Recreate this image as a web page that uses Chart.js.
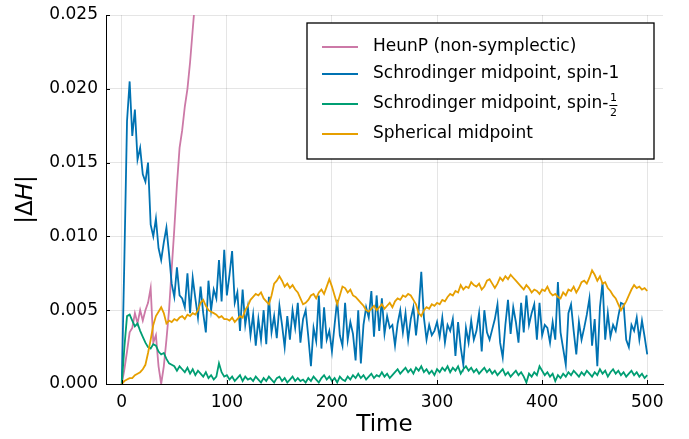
<!DOCTYPE html>
<html>
<head>
<meta charset="utf-8">
<script src="https://cdn.jsdelivr.net/npm/chart.js"></script>
<style>
  html, body { margin: 0; padding: 0; background: #fff; }
</style>
</head>
<body>
<canvas id="chart" width="689" height="439"></canvas>
<script>
// sampling step of the stored series (time units)
const dt = 2.5

// |dH| values, one per time step
const heunP = [
  0, 0.0010, 0.0022, 0.0035, 0.0038, 0.0048, 0.0041, 0.0050, 0.0043, 0.0050,
  0.0055, 0.0065, 0.0028, 0.0033, 0.0012, 0.0000, 0.0012, 0.0030, 0.0050, 0.0078,
  0.0105, 0.0135, 0.0160, 0.0172, 0.0188, 0.0200, 0.0218, 0.0240, 0.0262, 0.0285,
  0.0310
]

const schrodingerSpin1 = [
  0, 0.0085, 0.0178, 0.0205, 0.0168, 0.0186, 0.0152, 0.0160, 0.0142, 0.0137,
  0.0150, 0.0108, 0.0100, 0.0112, 0.0092, 0.0084, 0.0096, 0.0106, 0.0088, 0.0068,
  0.0059, 0.0079, 0.0060, 0.0058, 0.0052, 0.0075, 0.0048, 0.0072, 0.0058, 0.0045,
  0.0066, 0.0048, 0.0035, 0.0070, 0.0050, 0.0064, 0.0058, 0.0084, 0.0056, 0.0091,
  0.0060, 0.0074, 0.0090, 0.0055, 0.0062, 0.0036, 0.0064, 0.0040, 0.0052, 0.0033,
  0.0047, 0.0026, 0.0044, 0.0030, 0.0050, 0.0027, 0.0059, 0.0035, 0.0046, 0.0031,
  0.0053, 0.0040, 0.0025, 0.0046, 0.0030, 0.0050, 0.0038, 0.0055, 0.0028, 0.0044,
  0.0050, 0.0032, 0.0012, 0.0038, 0.0029, 0.0060, 0.0024, 0.0052, 0.0030, 0.0036,
  0.0022, 0.0040, 0.0057, 0.0033, 0.0026, 0.0055, 0.0030, 0.0042, 0.0034, 0.0016,
  0.0050, 0.0014, 0.0040, 0.0052, 0.0045, 0.0063, 0.0032, 0.0060, 0.0036, 0.0058,
  0.0034, 0.0046, 0.0038, 0.0040, 0.0026, 0.0041, 0.0050, 0.0035, 0.0048, 0.0030,
  0.0044, 0.0052, 0.0033, 0.0050, 0.0076, 0.0045, 0.0030, 0.0040, 0.0033, 0.0036,
  0.0042, 0.0032, 0.0045, 0.0028, 0.0040, 0.0036, 0.0044, 0.0019, 0.0042, 0.0025,
  0.0013, 0.0038, 0.0028, 0.0043, 0.0030, 0.0036, 0.0048, 0.0022, 0.0050, 0.0035,
  0.0030, 0.0037, 0.0044, 0.0054, 0.0028, 0.0018, 0.0040, 0.0057, 0.0034, 0.0052,
  0.0042, 0.0028, 0.0055, 0.0035, 0.0060, 0.0040, 0.0048, 0.0054, 0.0030, 0.0055,
  0.0033, 0.0040, 0.0038, 0.0028, 0.0042, 0.0030, 0.0069, 0.0035, 0.0024, 0.0013,
  0.0048, 0.0054, 0.0036, 0.0020, 0.0042, 0.0030, 0.0038, 0.0047, 0.0058, 0.0026,
  0.0044, 0.0012, 0.0052, 0.0069, 0.0030, 0.0048, 0.0032, 0.0040, 0.0036, 0.0046,
  0.0055, 0.0054, 0.0030, 0.0025, 0.0040, 0.0036, 0.0045, 0.0030, 0.0043, 0.0032,
  0.0020
]

const schrodingerSpinHalf = [
  0, 0.0025, 0.0046, 0.0047, 0.0043, 0.0039, 0.0041, 0.0036, 0.0032, 0.0028,
  0.0025, 0.0024, 0.0027, 0.0026, 0.0022, 0.0020, 0.0021, 0.0017, 0.0014, 0.0013,
  0.0012, 0.0009, 0.0012, 0.0010, 0.0008, 0.0011, 0.0007, 0.0010, 0.0006, 0.0009,
  0.0007, 0.0005, 0.0008, 0.0004, 0.0006, 0.0003, 0.0005, 0.0014, 0.0008, 0.0005,
  0.0006, 0.0003, 0.0005, 0.0002, 0.0004, 0.0006, 0.0002, 0.0005, 0.0003, 0.0004,
  0.0002, 0.0005, 0.0003, 0.0001, 0.0004, 0.0002, 0.0005, 0.0003, 0.0001, 0.0004,
  0.0005, 0.0002, 0.0004, 0.0001, 0.0003, 0.0005, 0.0002, 0.0004, 0.0002, 0.0003,
  0.0001, 0.0004, 0.0002, 0.0005, 0.0003, 0.0001, 0.0004, 0.0006, 0.0003, 0.0005,
  0.0002, 0.0004, 0.0001, 0.0005, 0.0003, 0.0002, 0.0005, 0.0003, 0.0006, 0.0004,
  0.0007, 0.0004, 0.0006, 0.0003, 0.0005, 0.0007, 0.0004, 0.0006, 0.0005, 0.0008,
  0.0005, 0.0007, 0.0004, 0.0006, 0.0008, 0.0010, 0.0007, 0.0009, 0.0011, 0.0008,
  0.0010, 0.0007, 0.0011, 0.0009, 0.0012, 0.0008, 0.0010, 0.0007, 0.0009, 0.0006,
  0.0010, 0.0008, 0.0011, 0.0009, 0.0012, 0.0008, 0.0011, 0.0009, 0.0012, 0.0007,
  0.0010, 0.0012, 0.0009, 0.0011, 0.0008, 0.0010, 0.0007, 0.0009, 0.0011, 0.0008,
  0.0010, 0.0007, 0.0009, 0.0006, 0.0008, 0.0010, 0.0006, 0.0008, 0.0005, 0.0007,
  0.0009, 0.0006, 0.0008, 0.0005, 0.0001, 0.0007, 0.0005, 0.0008, 0.0006, 0.0012,
  0.0009, 0.0006, 0.0008, 0.0005, 0.0007, 0.0002, 0.0006, 0.0004, 0.0007, 0.0005,
  0.0008, 0.0006, 0.0009, 0.0007, 0.0005, 0.0008, 0.0006, 0.0009, 0.0007, 0.0005,
  0.0008, 0.0006, 0.0010, 0.0007, 0.0009, 0.0005, 0.0008, 0.0010, 0.0007, 0.0009,
  0.0006, 0.0008, 0.0005, 0.0007, 0.0009, 0.0006, 0.0008, 0.0005, 0.0007, 0.0004,
  0.0006
]

const sphericalMidpoint = [
  0, 0.0002, 0.0003, 0.0004, 0.0004, 0.0006, 0.0007, 0.0008, 0.0010, 0.0013,
  0.0021, 0.0030, 0.0040, 0.0046, 0.0049, 0.0052, 0.0048, 0.0041, 0.0043, 0.0042,
  0.0044, 0.0043, 0.0045, 0.0046, 0.0044, 0.0047, 0.0046, 0.0048, 0.0047, 0.0050,
  0.0055, 0.0057, 0.0053, 0.0050, 0.0049, 0.0048, 0.0047, 0.0045, 0.0046, 0.0044,
  0.0044, 0.0043, 0.0045, 0.0042, 0.0044, 0.0046, 0.0045, 0.0050, 0.0053, 0.0057,
  0.0059, 0.0061, 0.0060, 0.0062, 0.0058, 0.0056, 0.0054, 0.0060, 0.0068, 0.0070,
  0.0073, 0.0070, 0.0066, 0.0068, 0.0065, 0.0067, 0.0064, 0.0062, 0.0058, 0.0054,
  0.0055, 0.0057, 0.0060, 0.0061, 0.0058, 0.0062, 0.0064, 0.0061, 0.0066, 0.0071,
  0.0066, 0.0060, 0.0054, 0.0060, 0.0066, 0.0065, 0.0062, 0.0064, 0.0060, 0.0059,
  0.0057, 0.0055, 0.0053, 0.0050, 0.0049, 0.0051, 0.0053, 0.0050, 0.0052, 0.0054,
  0.0051, 0.0053, 0.0055, 0.0052, 0.0056, 0.0058, 0.0057, 0.0060, 0.0059, 0.0061,
  0.0060, 0.0057, 0.0054, 0.0048, 0.0046, 0.0050, 0.0052, 0.0051, 0.0054, 0.0053,
  0.0055, 0.0054, 0.0057, 0.0056, 0.0059, 0.0061, 0.0060, 0.0063, 0.0062, 0.0067,
  0.0064, 0.0066, 0.0065, 0.0069, 0.0067, 0.0066, 0.0068, 0.0064, 0.0066, 0.0070,
  0.0071, 0.0068, 0.0065, 0.0068, 0.0072, 0.0070, 0.0073, 0.0071, 0.0074, 0.0072,
  0.0070, 0.0068, 0.0066, 0.0064, 0.0067, 0.0065, 0.0062, 0.0064, 0.0063, 0.0061,
  0.0064, 0.0063, 0.0066, 0.0062, 0.0060, 0.0061, 0.0059, 0.0058, 0.0062, 0.0060,
  0.0064, 0.0063, 0.0066, 0.0062, 0.0065, 0.0069, 0.0070, 0.0068, 0.0072, 0.0077,
  0.0074, 0.0070, 0.0073, 0.0068, 0.0069, 0.0065, 0.0063, 0.0060, 0.0058, 0.0054,
  0.0050, 0.0053, 0.0056, 0.0060, 0.0064, 0.0067, 0.0065, 0.0066, 0.0064, 0.0065,
  0.0063
]

const seriesLabels = [
  'HeunP (non-symplectic)',
  'Schrodinger midpoint, spin-1',
  'Schrodinger midpoint, spin-1/2',
  'Spherical midpoint'
]
const seriesColors = ['#cc79a7', '#0072b2', '#009e73', '#e69f00']

const xTicks = [0, 100, 200, 300, 400, 500]
const yTicks = [0, 0.005, 0.010, 0.015, 0.020, 0.025]

const FONT = "'DejaVu Sans', sans-serif"

function toPoints(values) {
    return values.map(function (v, i) { return { x: i * dt, y: v } })
}

const allSeries = [heunP, schrodingerSpin1, schrodingerSpinHalf, sphericalMidpoint]

// start: custom drawing (legend box, inward ticks, axis titles)
const decorPlugin = {
    id: 'decor',
    afterDraw(chart) {
        const ctx = chart.ctx
        const area = chart.chartArea
        const xs = chart.scales.x
        const ys = chart.scales.y
        ctx.save()

        // inward tick marks
        ctx.strokeStyle = '#000'
        ctx.lineWidth = 1
        ctx.beginPath()
        yTicks.forEach(function (v) {
            const py = Math.round(ys.getPixelForValue(v)) + 0.5
            ctx.moveTo(area.left, py)
            ctx.lineTo(area.left + 4, py)
        })
        xTicks.forEach(function (v) {
            const px = Math.round(xs.getPixelForValue(v)) + 0.5
            ctx.moveTo(px, area.bottom)
            ctx.lineTo(px, area.bottom - 4)
        })
        ctx.stroke()

        // x title
        ctx.fillStyle = '#000'
        ctx.font = '23px ' + FONT
        ctx.textAlign = 'center'
        ctx.textBaseline = 'middle'
        ctx.fillText('Time', (area.left + area.right) / 2, 425)

        // y title |ΔH| with italic H
        ctx.save()
        ctx.translate(26, (area.top + area.bottom) / 2)
        ctx.rotate(-Math.PI / 2)
        const parts = [['|Δ', 'normal'], ['H', 'italic'], ['|', 'normal']]
        let total = 0
        parts.forEach(function (p) {
            ctx.font = p[1] + ' 23px ' + FONT
            total += ctx.measureText(p[0]).width
        })
        let cx = -total / 2
        ctx.textAlign = 'left'
        parts.forEach(function (p) {
            ctx.font = p[1] + ' 23px ' + FONT
            ctx.fillText(p[0], cx, 0)
            cx += ctx.measureText(p[0]).width
        })
        ctx.restore()

        // legend box
        const boxL = 307, boxT = 23, boxR = 654, boxB = 159
        ctx.fillStyle = '#fff'
        ctx.fillRect(boxL, boxT, boxR - boxL, boxB - boxT)
        ctx.strokeStyle = '#000'
        ctx.lineWidth = 1.3
        ctx.strokeRect(boxL, boxT, boxR - boxL, boxB - boxT)

        const rows = [47, 74, 104, 134]
        ctx.textBaseline = 'middle'
        ctx.textAlign = 'left'
        seriesLabels.forEach(function (label, i) {
            const y = rows[i]
            ctx.strokeStyle = seriesColors[i]
            ctx.lineWidth = 2
            ctx.beginPath()
            ctx.moveTo(322, y)
            ctx.lineTo(358, y)
            ctx.stroke()
            ctx.fillStyle = '#000'
            ctx.font = '17px ' + FONT
            if (label.endsWith('1/2')) {
                const head = label.slice(0, -3)
                ctx.fillText(head, 373, y)
                const fx = 373 + ctx.measureText(head).width + 5
                ctx.font = '11px ' + FONT
                ctx.textAlign = 'center'
                ctx.fillText('1', fx, y - 6)
                ctx.fillText('2', fx, y + 9)
                ctx.textAlign = 'left'
                ctx.lineWidth = 1
                ctx.strokeStyle = '#000'
                ctx.beginPath()
                ctx.moveTo(fx - 4, y + 1.5)
                ctx.lineTo(fx + 4, y + 1.5)
                ctx.stroke()
            } else {
                ctx.fillText(label, 373, y)
            }
        })
        ctx.restore()
    }
}
// end: custom drawing

new Chart(document.getElementById('chart'), {
    type: 'line',
    data: {
        datasets: allSeries.map(function (values, i) {
            return {
                label: seriesLabels[i],
                data: toPoints(values),
                borderColor: seriesColors[i],
                backgroundColor: seriesColors[i],
                borderWidth: 1.8,
                pointRadius: 0,
                tension: 0,
                fill: false,
                order: 4 - i
            }
        })
    },
    options: {
        responsive: false,
        animation: false,
        layout: { padding: { left: 0, top: 15, right: 26, bottom: 0 } },
        plugins: {
            legend: { display: false },
            tooltip: { enabled: false }
        },
        scales: {
            x: {
                type: 'linear',
                min: -15,
                max: 515,
                afterBuildTicks(scale) {
                    scale.ticks = xTicks.map(function (v) { return { value: v } })
                },
                afterFit(scale) { scale.height = 55 },
                grid: { color: 'rgba(0,0,0,0.1)', drawTicks: false },
                border: { color: '#000', width: 1 },
                ticks: {
                    color: '#000',
                    padding: 8,
                    maxRotation: 0,
                    font: { family: FONT, size: 17 },
                    callback: function (v) { return String(v) }
                }
            },
            y: {
                type: 'linear',
                min: 0,
                max: 0.025,
                afterBuildTicks(scale) {
                    scale.ticks = yTicks.map(function (v) { return { value: v } })
                },
                afterFit(scale) { scale.width = 106 },
                grid: { color: 'rgba(0,0,0,0.1)', drawTicks: false },
                border: { color: '#000', width: 1 },
                ticks: {
                    color: '#000',
                    padding: 8,
                    font: { family: FONT, size: 17, lineHeight: 0.8 },
                    callback: function (v) { return Number(v).toFixed(3) }
                }
            }
        }
    },
    plugins: [decorPlugin]
})
</script>
</body>
</html>
